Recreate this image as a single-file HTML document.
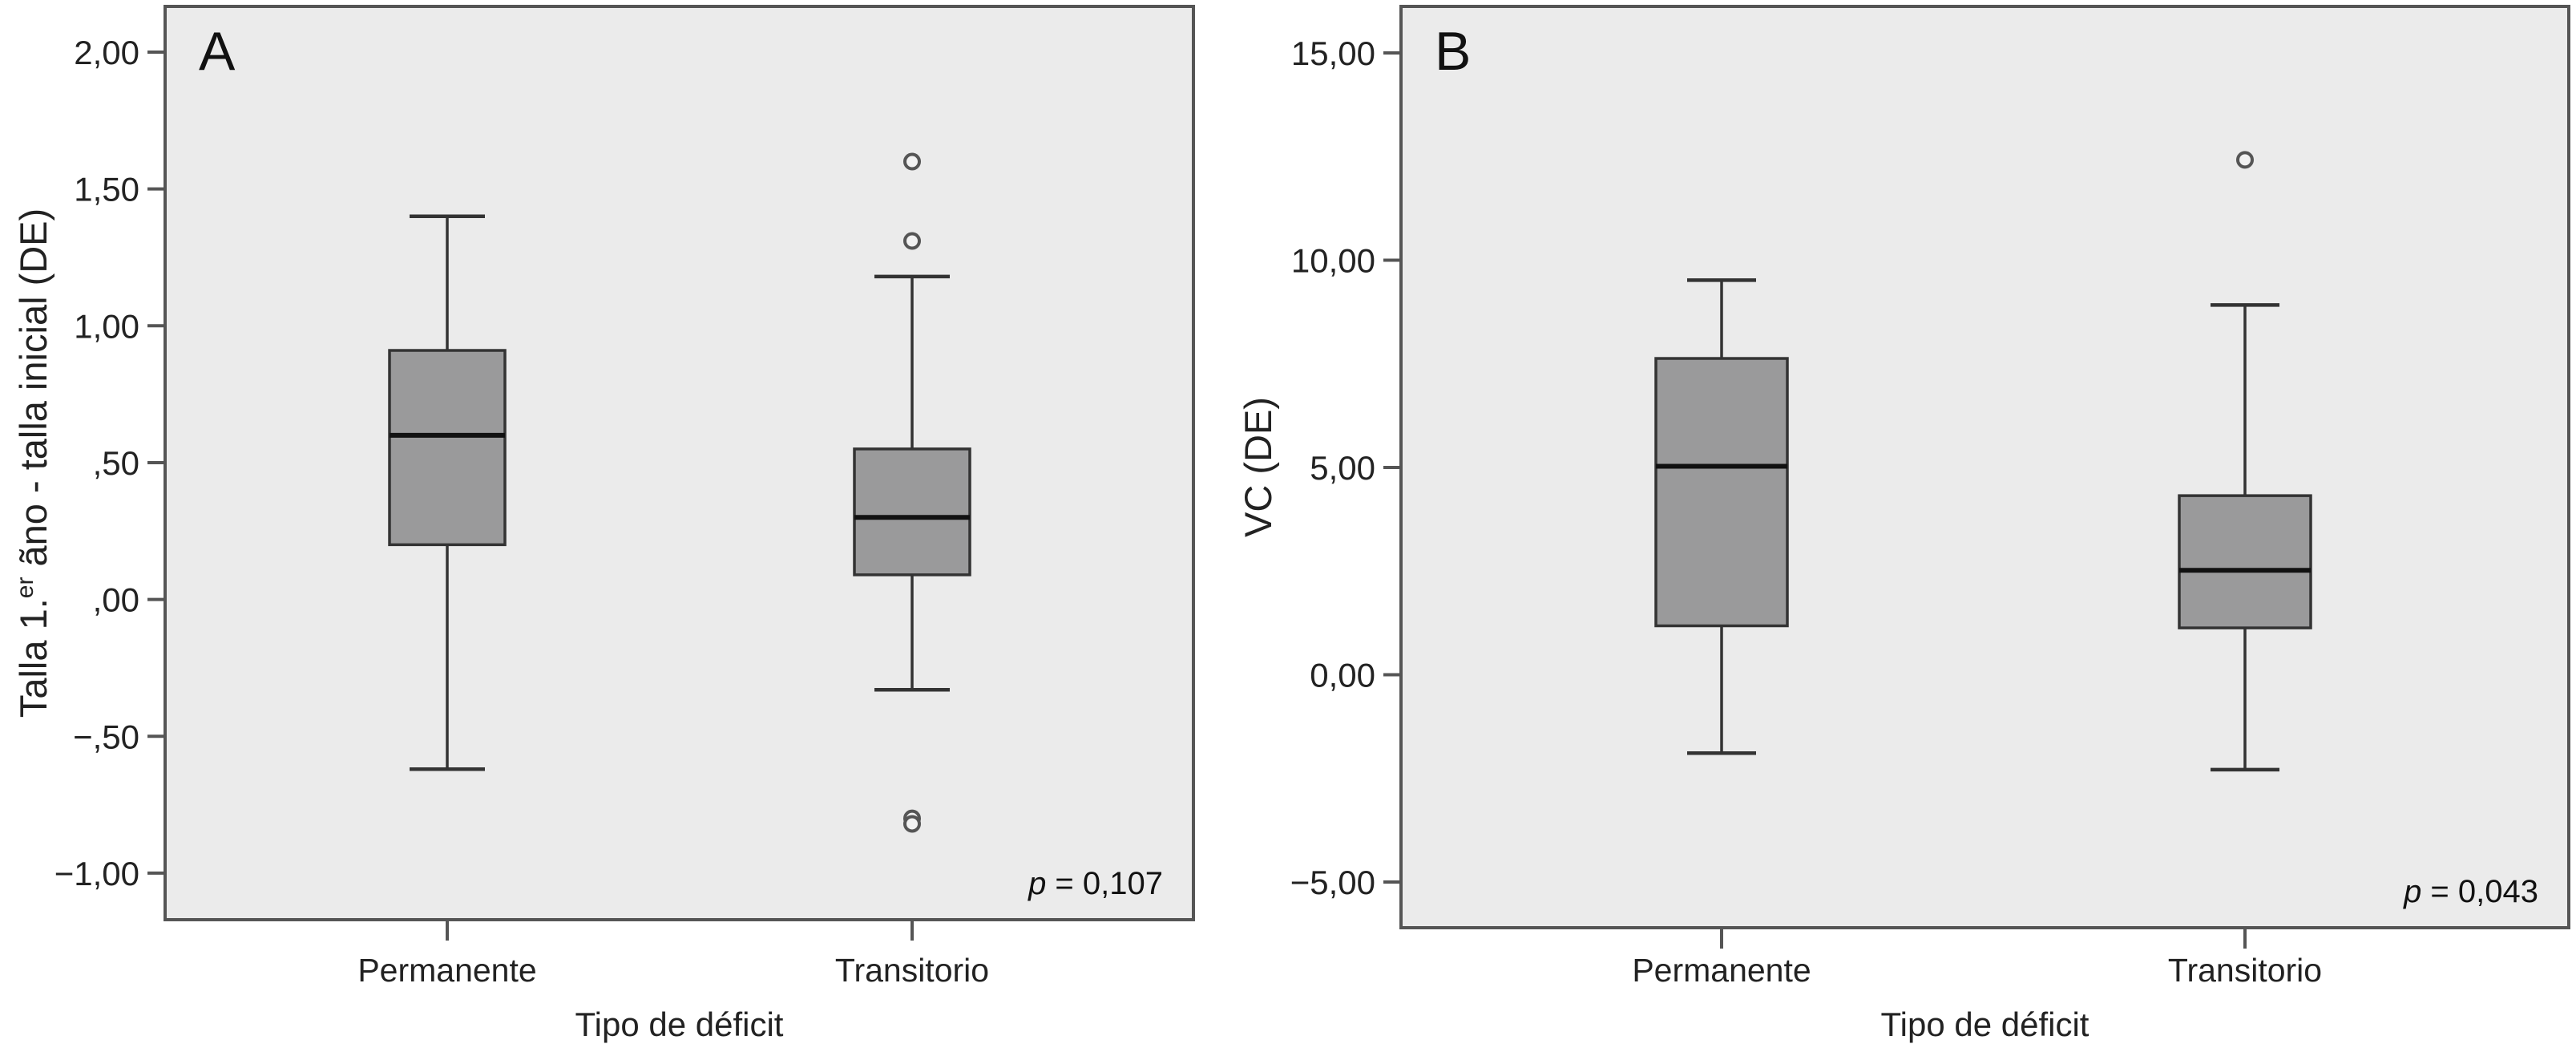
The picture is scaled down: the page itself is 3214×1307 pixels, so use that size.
<!DOCTYPE html>
<html><head><meta charset="utf-8"><style>
html,body{margin:0;padding:0;background:#fff;}
svg{display:block;font-family:"Liberation Sans Narrow","Liberation Sans",sans-serif;}
</style></head><body>
<svg id="chart" width="3214" height="1307" viewBox="0 0 3214 1307" xmlns="http://www.w3.org/2000/svg"></svg>
<script>
const categories = ["Permanente", "Transitorio"];
// Panel A values: [lowWhisker, q1, median, q3, highWhisker]
const statsA = [[-0.62, 0.20, 0.60, 0.91, 1.40], [-0.33, 0.09, 0.30, 0.55, 1.18]];
const outliersA = [[], [1.60, 1.31, -0.80, -0.82]];
const ticksA = [2.0, 1.5, 1.0, 0.5, 0.0, -0.5, -1.0];
const tickLabelsA = ["2,00", "1,50", "1,00", ",50", ",00", "\u2212,50", "\u22121,00"];
// Panel B values
const statsB = [[-1.89, 1.18, 5.03, 7.63, 9.52], [-2.29, 1.13, 2.52, 4.32, 8.92]];
const outliersB = [[], [12.42]];
const ticksB = [15, 10, 5, 0, -5];
const tickLabelsB = ["15,00", "10,00", "5,00", "0,00", "\u22125,00"];

const NS = "http://www.w3.org/2000/svg";
const svg = document.getElementById("chart");
function mk(tag, attrs, parent, text) {
  const e = document.createElementNS(NS, tag);
  for (const k in attrs) e.setAttribute(k, attrs[k]);
  if (text !== undefined) e.textContent = text;
  (parent || svg).appendChild(e);
  return e;
}

function panel(cfg) {
  const g = mk("g", {});
  
  
  const y = v => cfg.y0 + (cfg.vTop - v) * cfg.pxPerUnit;
  const x = i => cfg.catX[i];
  const frame = mk("rect", {x: cfg.left, y: cfg.top, width: cfg.right - cfg.left, height: cfg.bottom - cfg.top, fill: "#ebebeb", stroke: "#555", "stroke-width": 4}, g);
  
  
  cfg.ticks.forEach((t, i) => {
    const ty = y(t);
    const tk = mk("line", {x1: cfg.left - 22, x2: cfg.left, y1: ty, y2: ty, stroke: "#555", "stroke-width": 4}, g);
    
    
    const lb = mk("text", {x: cfg.left - 32, y: ty + 15, "text-anchor": "end", "font-size": 42, fill: "#222"}, g, cfg.tickLabels[i]);
    
    
  });
  categories.forEach((c, i) => {
    const tk = mk("line", {x1: x(i), x2: x(i), y1: cfg.bottom, y2: cfg.bottom + 26, stroke: "#555", "stroke-width": 4}, g);
    
    
    const lb = mk("text", {x: x(i), y: 1224, "text-anchor": "middle", "font-size": 41, fill: "#222"}, g, c);
    
    
  });
  cfg.stats.forEach((s, i) => {
    const cx = x(i), bw = cfg.boxW, cw = cfg.capW;
    const bg = mk("g", {}, g);
    
    
    mk("line", {x1: cx, x2: cx, y1: y(s[4]), y2: y(s[3]), stroke: "#333", "stroke-width": 3.5}, bg);
    mk("line", {x1: cx, x2: cx, y1: y(s[1]), y2: y(s[0]), stroke: "#333", "stroke-width": 3.5}, bg);
    mk("line", {x1: cx - cw / 2, x2: cx + cw / 2, y1: y(s[4]), y2: y(s[4]), stroke: "#333", "stroke-width": 4.5}, bg);
    mk("line", {x1: cx - cw / 2, x2: cx + cw / 2, y1: y(s[0]), y2: y(s[0]), stroke: "#333", "stroke-width": 4.5}, bg);
    mk("rect", {x: cx - bw / 2, y: y(s[3]), width: bw, height: y(s[1]) - y(s[3]), fill: "#9a9a9b", stroke: "#333", "stroke-width": 3.5}, bg);
    mk("line", {x1: cx - bw / 2, x2: cx + bw / 2, y1: y(s[2]), y2: y(s[2]), stroke: "#111", "stroke-width": 6}, bg);
    cfg.outliers[i].forEach(o => {
      const c = mk("circle", {cx: cx, cy: y(o), r: 9, fill: "#f2f2f2", stroke: "#555", "stroke-width": 4}, bg);
      
      
    });
  });
  const letter = mk("text", {x: cfg.left + 42, y: 87, "font-size": 68, "font-family": "Liberation Sans, sans-serif", fill: "#111"}, g, cfg.letter);
  
  
  const pv = mk("text", {x: cfg.right - 38, y: cfg.bottom - 32, "text-anchor": "end", "font-size": 40, fill: "#111"}, g);
  
  
  mk("tspan", {"font-style": "italic"}, pv, "p");
  mk("tspan", {}, pv, " = " + cfg.p);
  const xt = mk("text", {x: (cfg.left + cfg.right) / 2, y: 1292, "text-anchor": "middle", "font-size": 42, fill: "#222"}, g, "Tipo de déficit");
  
  
  const ycy = (cfg.top + cfg.bottom) / 2;
  const yt = mk("text", {x: cfg.yTitleX, y: ycy, "text-anchor": "middle", "font-size": 47, fill: "#222", transform: "rotate(-90 " + cfg.yTitleX + " " + ycy + ")"}, g);
  
  
  cfg.yTitle(yt);
}

panel({name: "panel-a", letter: "A", p: "0,107", left: 206, right: 1489, top: 8, bottom: 1147,
  y0: 65, vTop: 2.0, pxPerUnit: 341.3, catX: [558, 1138], boxW: 144, capW: 94,
  stats: statsA, outliers: outliersA, ticks: ticksA, tickLabels: tickLabelsA, yTitleX: 58,
  yTitle: t => { mk("tspan", {}, t, "Talla 1."); mk("tspan", {"font-size": 30, dy: -17}, t, "er"); mk("tspan", {dy: 17}, t, " ãno - talla inicial (DE)"); }});
panel({name: "panel-b", letter: "B", p: "0,043", left: 1748, right: 3205, top: 8, bottom: 1157,
  y0: 66, vTop: 15, pxPerUnit: 51.7, catX: [2148, 2801], boxW: 164, capW: 86,
  stats: statsB, outliers: outliersB, ticks: ticksB, tickLabels: tickLabelsB, yTitleX: 1586,
  yTitle: t => { t.textContent = "VC (DE)"; }});
</script>
</body></html>
